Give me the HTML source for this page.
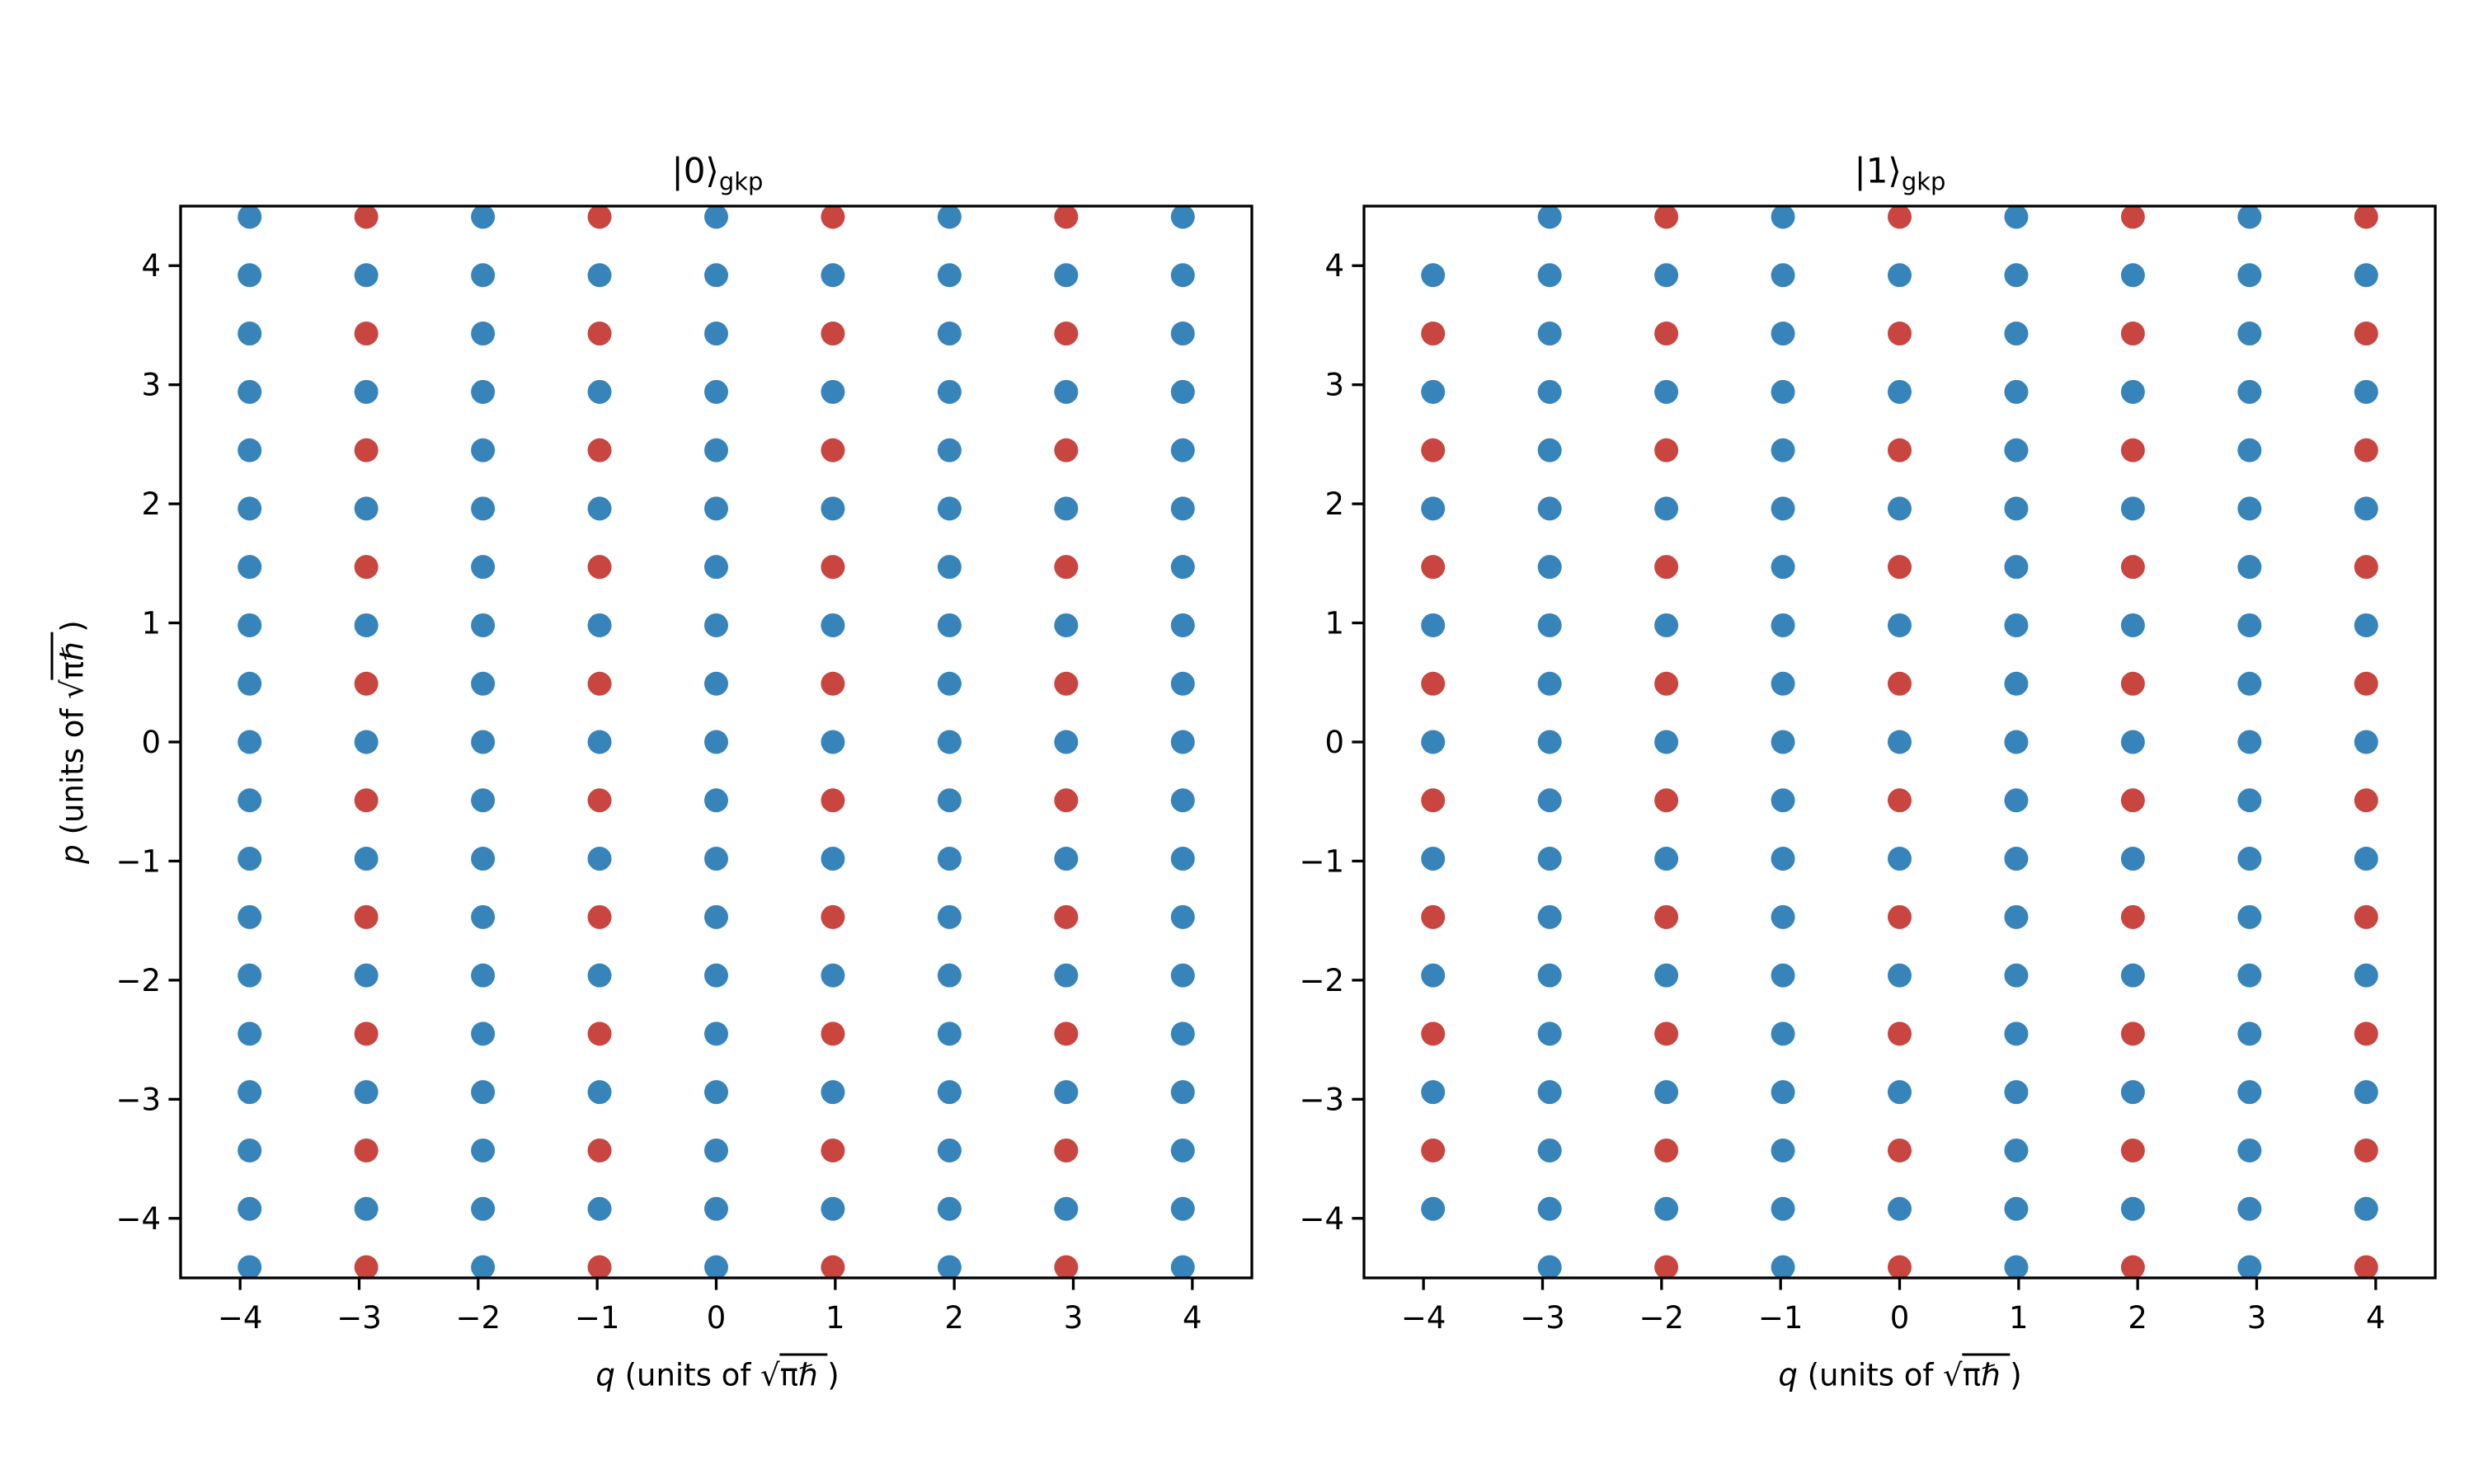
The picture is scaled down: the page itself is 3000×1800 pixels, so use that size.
<!DOCTYPE html>
<html><head><meta charset="utf-8"><style>
body{margin:0;background:#fff;}
#wrap{position:relative;width:3000px;height:1800px;overflow:hidden;font-family:"DejaVu Sans","Liberation Sans",sans-serif;color:#000;}
.lbl{position:absolute;font-size:37px;white-space:nowrap;transform:translate(-50%,-50%);}
.ttl{position:absolute;font-size:42px;white-space:nowrap;transform:translate(-50%,-50%);}
.ttl sub{font-size:29px;}
.ov{border-top:3px solid #000;padding-top:2px;}
svg text{font-family:"DejaVu Sans","Liberation Sans",sans-serif;font-size:37px;}
</style></head><body>
<div id="wrap">
<svg id="chart" width="3000" height="1800"></svg>
<div class="ttl" style="left:870px;top:210px">|0⟩<sub>gkp</sub></div>
<div class="ttl" style="left:2304px;top:210px">|1⟩<sub>gkp</sub></div>
<div class="lbl" style="left:870px;top:1668px"><i>q</i> (units of √<span class="ov">πℏ&nbsp;</span>)</div>
<div class="lbl" style="left:2304px;top:1668px"><i>q</i> (units of √<span class="ov">πℏ&nbsp;</span>)</div>
<div class="lbl" style="left:88px;top:900px;transform:translate(-50%,-50%) rotate(-90deg)"><i>p</i> (units of √<span class="ov">πℏ&nbsp;</span>)</div>
</div>
<script>
const spacing = 0.98;
const colIndex = [-4,-3,-2,-1,0,1,2,3,4];
const rowIndex = [9,8,7,6,5,4,3,2,1,0,-1,-2,-3,-4,-5,-6,-7,-8,-9];
const tickValues = [-4,-3,-2,-1,0,1,2,3,4];
const tickLabels = ["\u22124","\u22123","\u22122","\u22121","0","1","2","3","4"];
const leftColumns = [
"bbbbbbbbbbbbbbbbbbb","rbrbrbrbrbrbrbrbrbr","bbbbbbbbbbbbbbbbbbb","rbrbrbrbrbrbrbrbrbr",
"bbbbbbbbbbbbbbbbbbb","rbrbrbrbrbrbrbrbrbr","bbbbbbbbbbbbbbbbbbb","rbrbrbrbrbrbrbrbrbr","bbbbbbbbbbbbbbbbbbb"];
const rightColumns = [
".brbrbrbrbrbrbrbrb.","bbbbbbbbbbbbbbbbbbb","rbrbrbrbrbrbrbrbrbr","bbbbbbbbbbbbbbbbbbb",
"rbrbrbrbrbrbrbrbrbr","bbbbbbbbbbbbbbbbbbb","rbrbrbrbrbrbrbrbrbr","bbbbbbbbbbbbbbbbbbb","rbrbrbrbrbrbrbrbrbr"];
const colors = {b:"#3784bb", r:"#c8463f"};
const svg = document.getElementById('chart');
const NS = "http://www.w3.org/2000/svg";
function mk(tag, attrs){const e=document.createElementNS(NS,tag);for(const k in attrs)e.setAttribute(k,attrs[k]);svg.appendChild(e);return e;}
function panel(x0, x1, columns, name){
  const y0=250, y1=1550;
  const sx = v => x0 + (v+4.5)/9*(x1-x0);
  const sy = v => y1 - (v+4.5)/9*(y1-y0);
  columns.forEach((col,ci)=>{
    for(let ri=0; ri<rowIndex.length; ri++){
      const c = col[ri];
      if(c==='.') continue;
      const q = colIndex[ci]*spacing, p = rowIndex[ri]*spacing/2;
      const e = mk('circle',{cx:sx(q),cy:sy(p),r:14.5,fill:colors[c]});
      
      
    }
  });
  const fr = mk('rect',{x:x0,y:y0,width:x1-x0,height:y1-y0,fill:'none',stroke:'#000','stroke-width':3.3});
  
  
  tickValues.forEach((v,i)=>{
    const tx = mk('line',{x1:sx(v),x2:sx(v),y1:y1,y2:y1+14.6,stroke:'#000','stroke-width':3.3});
    
    
    const tl = mk('text',{x:sx(v),y:1611,'text-anchor':'middle'});
    tl.textContent = tickLabels[i];
    
    
    const ty = mk('line',{x1:x0-14.6,x2:x0,y1:sy(v),y2:sy(v),stroke:'#000','stroke-width':3.3});
    
    
    const yl = mk('text',{x:x0-24,y:sy(v)+13,'text-anchor':'end'});
    yl.textContent = tickLabels[i];
    
    
  });
}
panel(219, 1518, leftColumns, 'left-panel');
panel(1654, 2953, rightColumns, 'right-panel');
</script>
</body></html>
